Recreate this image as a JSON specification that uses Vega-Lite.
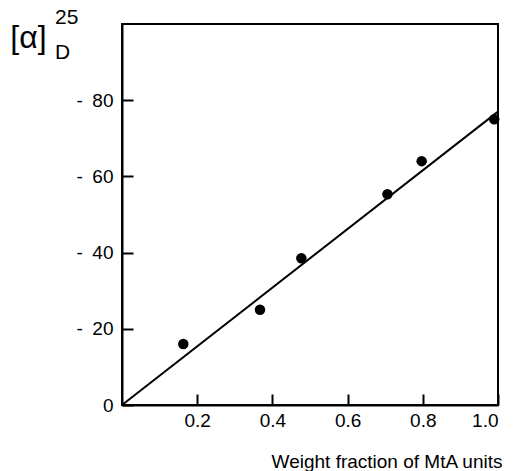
{
  "$schema": "https://vega.github.io/schema/vega-lite/v6.json",
  "autosize": "none",
  "width": 376,
  "height": 381,
  "padding": {"left": 122, "top": 24, "right": 20, "bottom": 66},
  "background": "white",
  "config": {
    "view": {"stroke": "black", "strokeWidth": 2},
    "font": "Liberation Sans",
    "axis": {
      "grid": false,
      "domainColor": "black",
      "domainWidth": 2,
      "tickColor": "black",
      "tickWidth": 2,
      "tickSize": -11,
      "labelColor": "black",
      "labelFont": "Liberation Sans",
      "labelFontSize": 19,
      "titleColor": "black",
      "titleFont": "Liberation Sans",
      "titleFontWeight": "normal"
    }
  },
  "title": {
    "text": "25",
    "subtitle": "D",
    "anchor": "start",
    "frame": "group",
    "dx": -67,
    "offset": -42,
    "fontSize": 21,
    "fontWeight": "normal",
    "font": "Liberation Sans",
    "color": "black",
    "subtitleFontSize": 21,
    "subtitleFont": "Liberation Sans",
    "subtitleColor": "black",
    "subtitlePadding": 14
  },
  "datasets": {
    "points": [
      {"fraction": 0.163, "rotation": -16},
      {"fraction": 0.367, "rotation": -25},
      {"fraction": 0.477, "rotation": -38.5},
      {"fraction": 0.706, "rotation": -55.3},
      {"fraction": 0.797, "rotation": -64},
      {"fraction": 0.99, "rotation": -75}
    ],
    "fit": [
      {"fraction": 0, "rotation": 0},
      {"fraction": 1, "rotation": -77}
    ]
  },
  "layer": [
    {
      "data": {"name": "fit"},
      "mark": {"type": "line", "color": "black", "strokeWidth": 2},
      "encoding": {
        "x": {
          "field": "fraction",
          "type": "quantitative",
          "scale": {"domain": [0, 1]},
          "axis": {
            "values": [0.2, 0.4, 0.6, 0.8, 1.0],
            "format": ".1f",
            "labelPadding": 17,
            "title": "Weight fraction of MtA units",
            "titleFontSize": 19,
            "titleAlign": "right",
            "titleAnchor": "end",
            "titleX": 380,
            "titleY": 62,
            "titleBaseline": "alphabetic"
          }
        },
        "y": {
          "field": "rotation",
          "type": "quantitative",
          "scale": {"domain": [0, -100]},
          "axis": {
            "values": [0, -20, -40, -60, -80],
            "labelExpr": "datum.value == 0 ? '0' : '-\u2002' + format(-datum.value, 'd')",
            "labelPadding": 20,
            "title": "[α]",
            "titleFontSize": 32,
            "titleAngle": 0,
            "titleAlign": "center",
            "titleBaseline": "middle",
            "titleX": -94,
            "titleY": 13
          }
        }
      }
    },
    {
      "data": {"name": "points"},
      "mark": {"type": "point", "filled": true, "color": "black", "opacity": 1, "size": 110},
      "encoding": {
        "x": {"field": "fraction", "type": "quantitative"},
        "y": {"field": "rotation", "type": "quantitative"}
      }
    }
  ]
}
